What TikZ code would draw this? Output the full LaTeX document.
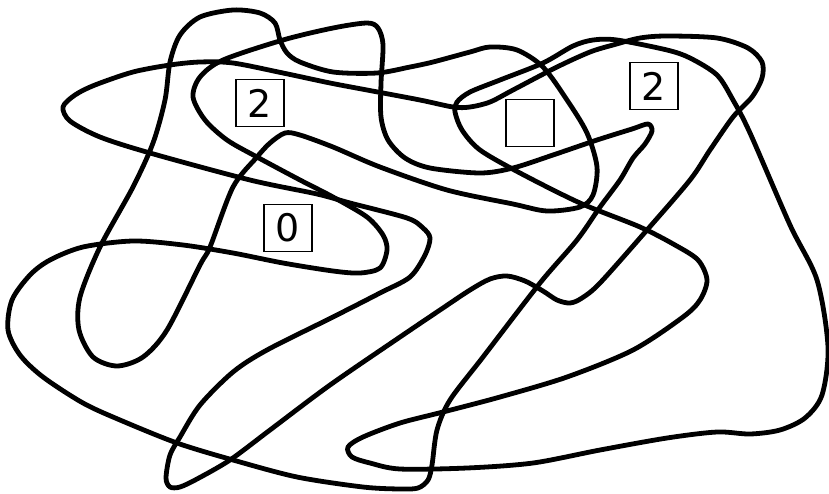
\documentclass[tikz,border=0pt]{standalone}
\usepackage{fontspec}
\setmainfont{DejaVu Sans}
\begin{document}
\begin{tikzpicture}[x=1pt,y=-1pt,
  curve/.style={line width=4.8pt,line cap=round,line join=round},
  cluebox/.style={draw,line width=1.8pt,fill=white,minimum width=48pt,minimum height=47pt,inner sep=0pt,font=\fontsize{38}{38}\selectfont}]
\useasboundingbox (0,0) rectangle (829,493);
% component 1
\draw[curve] plot[smooth cycle] coordinates {
 (63,107) (75,95) (95,85) (133,72) (170,65) (200,62) (233,63) (283,73) (330,83) (367,90) (420,100) (453,107) (470,107) (490,102) (513,90) (557,67) (590,52) (613,45) (640,38) (667,36) (717,38) (748,48) (762,62) (762,78) (752,97) (733,117) (710,150) (690,180) (647,230) (600,283) (582,298) (570,303) (557,300) (543,291) (525,281) (507,276) (490,279) (470,290) (440,310) (400,337) (330,385) (270,430) (230,460) (197,479) (180,487) (170,487) (166,478) (170,455) (180,437) (200,405) (233,372) (267,350) (333,317) (380,293) (410,277) (425,255) (430,238) (423,228) (407,218) (350,203) (317,194) (250,180) (150,153) (100,137) (70,121)};
% component 2
\draw[curve] plot[smooth cycle] coordinates {
 (455,112) (462,130) (480,150) (520,173) (580,203) (640,227) (675,245) (698,260) (707,280) (700,300) (683,317) (633,350) (567,377) (500,397) (443,412) (400,423) (363,437) (348,447) (352,457) (370,463) (400,469) (467,468) (533,463) (600,450) (667,438) (717,432) (750,434) (780,430) (805,418) (822,395) (828,347) (817,280) (790,225) (750,133) (733,100) (717,75) (690,58) (667,50) (617,40) (593,40) (573,46) (543,63) (500,80) (470,92) (457,102)};
% component 3
\draw[curve] plot[smooth cycle] coordinates {
 (233,10) (260,13) (275,23) (280,40) (287,53) (300,62) (333,72) (377,73) (410,67) (433,62) (470,52) (490,47) (517,50) (543,67) (567,100) (587,133) (597,167) (593,195) (580,207) (547,211) (513,204) (447,190) (380,167) (333,147) (300,135) (285,133) (270,143) (257,157) (233,187) (210,247) (200,265) (167,330) (143,357) (117,366) (93,357) (79,330) (80,297) (100,247) (133,187) (153,143) (165,100) (170,62) (180,35) (200,17)};
% component 4
\draw[curve] plot[smooth cycle] coordinates {
 (193,97) (200,77) (223,60) (283,40) (333,28) (367,23) (378,28) (383,45) (381,83) (381,117) (388,140) (405,158) (430,168) (480,173) (513,168) (553,155) (597,140) (632,129) (648,124) (652,131) (645,144) (633,158) (620,180) (600,207) (577,240) (540,283) (483,357) (450,400) (437,430) (432,465) (428,480) (418,488) (400,489) (363,487) (297,477) (233,460) (177,443) (120,420) (83,403) (43,377) (20,355) (8,330) (12,300) (30,275) (50,260) (83,247) (133,241) (183,245) (233,253) (283,263) (333,271) (360,273) (380,268) (387,250) (383,235) (367,217) (333,197) (300,180) (257,157) (227,140) (205,120)};
% clue boxes
\node[cluebox] (c1) at (260,103) {2};
\node[cluebox] (c2) at (288,228) {0};
\node[cluebox] (c3) at (530,123) {};
\node[cluebox] (c4) at (654,86) {2};
\end{tikzpicture}
\end{document}
